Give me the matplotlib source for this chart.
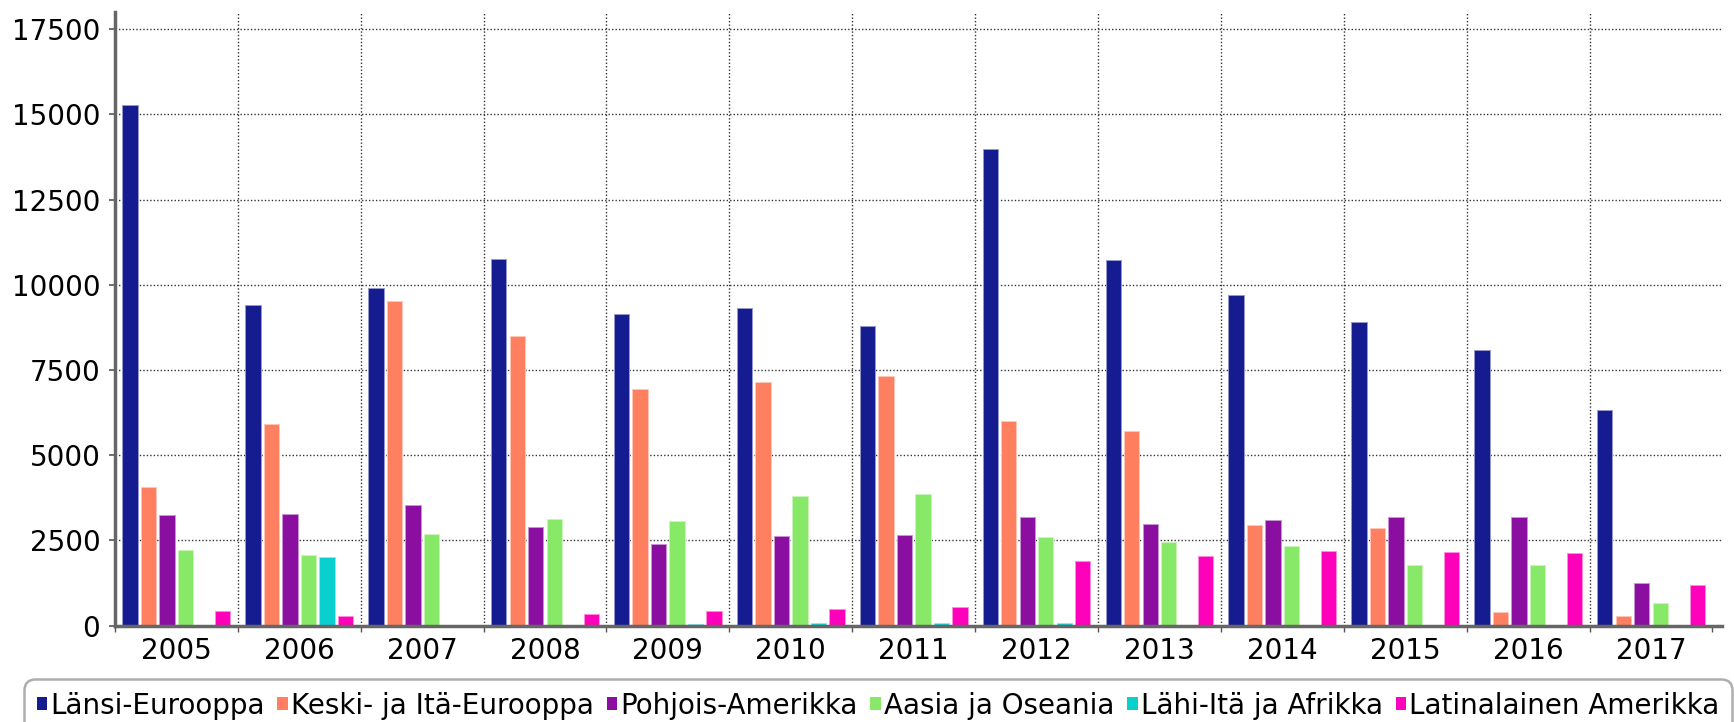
import numpy as np
import matplotlib
matplotlib.use("Agg")
import matplotlib.pyplot as plt
from matplotlib.patches import Rectangle
from matplotlib.colors import to_rgb

years = ["2005", "2006", "2007", "2008", "2009", "2010", "2011",
         "2012", "2013", "2014", "2015", "2016", "2017"]
series_names = ["Länsi-Eurooppa", "Keski- ja Itä-Eurooppa", "Pohjois-Amerikka",
                "Aasia ja Oseania", "Lähi-Itä ja Afrikka", "Latinalainen Amerikka"]
lansi_eurooppa = [15270, 9400, 9920, 10770, 9140, 9315, 8785, 13980, 10740, 9690, 8905, 8090, 6330]
keski_ita_eurooppa = [4080, 5920, 9530, 8500, 6945, 7140, 7330, 6000, 5725, 2945, 2880, 395, 275]
pohjois_amerikka = [3260, 3290, 3535, 2910, 2405, 2640, 2670, 3185, 2995, 3095, 3185, 3185, 1240]
aasia_oseania = [2220, 2085, 2680, 3125, 3085, 3810, 3860, 2605, 2455, 2330, 1790, 1780, 670]
lahi_ita_afrikka = [0, 2025, 15, 15, 60, 70, 90, 90, 25, 25, 25, 25, 0]
latinalainen_amerikka = [445, 295, 0, 345, 445, 500, 540, 1885, 2055, 2200, 2170, 2120, 1180]
colors = ["#141C8F", "#FF8060", "#8A0FA0", "#88E868", "#0ACFCF", "#FF00BB"]
yticks = [0, 2500, 5000, 7500, 10000, 12500, 15000, 17500]

data = [lansi_eurooppa, keski_ita_eurooppa, pohjois_amerikka,
        aasia_oseania, lahi_ita_afrikka, latinalainen_amerikka]

plt.rcParams['font.family'] = ['DejaVu Sans']

W, H = 1734, 722
fig = plt.figure(figsize=(W / 100, H / 100), dpi=100)
ax = fig.add_axes([114.9 / W, 1 - 625.7 / H, 1607 / W, 613.5 / H])

def lighten(c, f=0.5):
    r, g, b = to_rgb(c)
    return (r + (1 - r) * f, g + (1 - g) * f, b + (1 - b) * f)

x = np.arange(len(years))
pitch = 0.1505
width = 0.125
for i, (vals, col) in enumerate(zip(data, colors)):
    ax.bar(x + (i - 2.5) * pitch, vals, width=width, color=col,
           edgecolor=lighten(col, 0.55), linewidth=0.7, zorder=3)

ax.set_xlim(-0.5, len(years) - 0.5 + 0.077)
ax.set_ylim(0, 18000)
ax.set_yticks(yticks)
ax.set_yticklabels([str(v) for v in yticks])
ax.set_xticks(x)
ax.set_xticklabels(years)
ax.set_xticks(np.arange(-0.5, len(years) - 0.4, 1.0), minor=True)

for s in ["top", "right"]:
    ax.spines[s].set_visible(False)
for s in ["left", "bottom"]:
    ax.spines[s].set_color("#666666")
    ax.spines[s].set_linewidth(2.5)
    ax.spines[s].set_zorder(4)

ax.tick_params(axis="y", length=4.5, width=1.2, color="#555555", pad=6, labelsize=20)
ax.tick_params(axis="x", which="major", length=0, pad=8, labelsize=20)
ax.tick_params(axis="x", which="minor", length=4, width=1, color="#555555")

gridstyle = dict(color="#333333", linestyle=(0, (1, 1.5)), linewidth=1.0, zorder=1)
for yv in yticks[1:]:
    ax.axhline(yv, **gridstyle)
for b in np.arange(0.5, len(years) - 1, 1.0):
    ax.axvline(b, **gridstyle)

handles = [Rectangle((0, 0), 1, 1, facecolor=c, edgecolor="none") for c in colors]
leg = fig.legend(handles, series_names, loc="upper left",
                 bbox_to_anchor=(24 / W, 1 - 679 / H), ncol=6,
                 fontsize=20, frameon=True, fancybox=True,
                 handlelength=0.38, handleheight=0.38, handletextpad=0.12,
                 columnspacing=0.45, borderpad=0.45, borderaxespad=0)
fr = leg.get_frame()
fr.set_edgecolor("#9a9a9a")
fr.set_linewidth(1.8)
fr.set_boxstyle("round,pad=0,rounding_size=0.4")

fig.savefig("out.png", dpi=100)
